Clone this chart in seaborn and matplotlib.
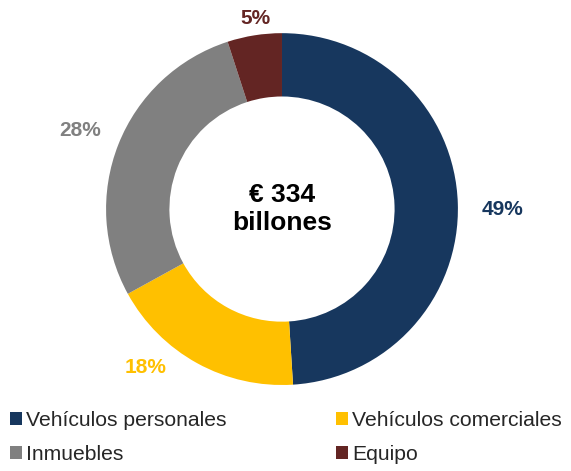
import matplotlib
matplotlib.use("Agg")
import matplotlib.pyplot as plt
from matplotlib.patches import Patch
import seaborn as sns

categories = ["Vehículos personales", "Vehículos comerciales", "Inmuebles", "Equipo"]
shares = [49, 18, 28, 5]
colors = ["#17375E", "#FFC000", "#808080", "#632523"]
center_text = "€ 334\nbillones"

# where the percentage labels sit, in units of the outer radius
label_xy = [(1.256, 0.0), (-0.778, -0.898), (-1.148, 0.449), (-0.148, 1.085)]

sns.set_theme(style="white")
plt.rcParams["font.family"] = ["Liberation Sans", "DejaVu Sans"]

fig = plt.figure(figsize=(5.71, 4.71), dpi=100)
ax = fig.add_axes([0.1856, 0.1826, 0.6165, 0.747])

wedges, texts = ax.pie(
    shares, colors=colors, startangle=90, counterclock=False,
    labels=[f"{v}%" for v in shares], labeldistance=1.22,
    wedgeprops=dict(width=0.36, edgecolor="none"),
    textprops=dict(fontsize=15, fontweight="bold"),
)
for t, c, xy in zip(texts, colors, label_xy):
    t.set_color(c)
    t.set_position(xy)
    t.set_ha("center")
    t.set_va("center")

ax.text(0, 0, center_text, ha="center", va="center", fontsize=19,
        fontweight="bold", color="black", linespacing=1.25)
ax.set_xlim(-1, 1)
ax.set_ylim(-1, 1)
ax.set_aspect("equal")
ax.axis("off")

# legend is filled row by row in the reference, matplotlib fills by column
order = [0, 2, 1, 3]
handles = [Patch(facecolor=colors[i], edgecolor="none") for i in order]
labels = [categories[i] for i in order]
fig.legend(handles, labels, ncol=2, loc="upper left",
           bbox_to_anchor=(0.017, 0.127), frameon=False, fontsize=15.2,
           handlelength=0.58, handleheight=0.58, handletextpad=0.18,
           columnspacing=5.2, labelspacing=0.72, borderaxespad=0, borderpad=0)

fig.savefig("out.png", dpi=100)
